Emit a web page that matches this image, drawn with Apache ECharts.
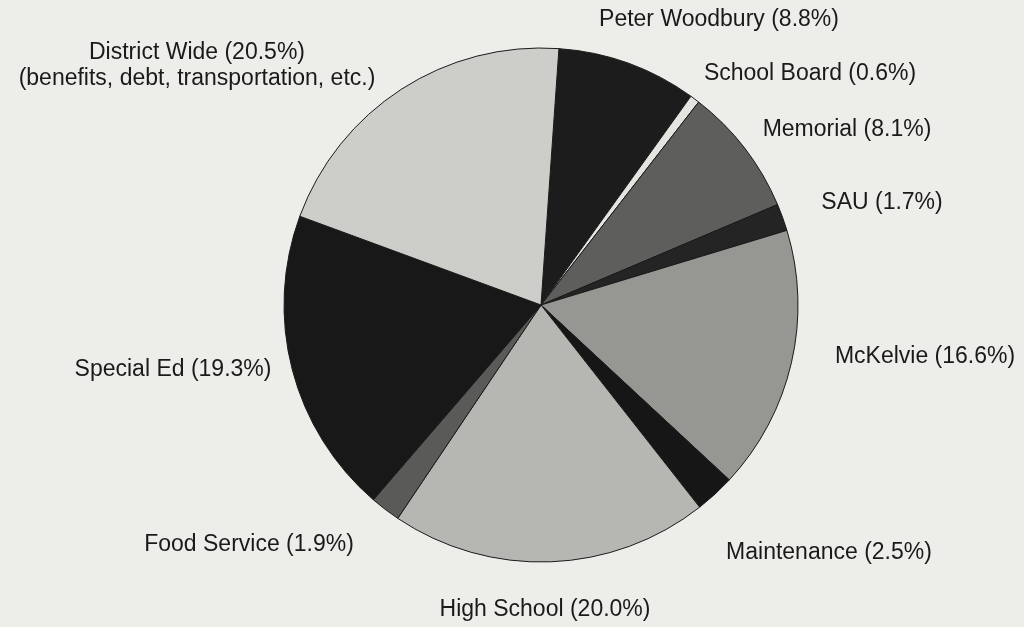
<!DOCTYPE html>
<html>
<head>
<meta charset="utf-8">
<script src="https://cdn.jsdelivr.net/npm/echarts@6/dist/echarts.min.js"></script>
<style>
html,body{margin:0;padding:0;background:#edede9;}
#chart{width:1024px;height:627px;}
</style>
</head>
<body>
<div id="chart"></div>
<script>
// Data
const categories = ['Peter Woodbury', 'School Board', 'Memorial', 'SAU', 'McKelvie', 'Maintenance', 'High School', 'Food Service', 'Special Ed', 'District Wide'];
const percents = [8.8, 0.6, 8.1, 1.7, 16.6, 2.5, 20.0, 1.9, 19.3, 20.5];
const labelNotes = ['', '', '', '', '', '', '', '', '', '(benefits, debt, transportation, etc.)'];

// Styles (not data)
const sliceColors = ['#1c1c1c', '#e4e4e0', '#5e5e5c', '#242424', '#969692', '#161616', '#b6b6b2', '#5a5a58', '#181818', '#cdcdc9'];
// label centre positions [x, y]
const labelAnchors = [
  [719, 20],
  [810, 74],
  [847, 130],
  [882, 203],
  [925, 357],
  [829, 553],
  [545, 610],
  [249, 545],
  [173, 370],
  [197, 66]
];

const data = categories.map((c, i) => ({
  name: c,
  value: percents[i],
  itemStyle: { color: sliceColors[i] }
}));

const chart = echarts.init(document.getElementById('chart'), null, { renderer: 'canvas' });
chart.setOption({
  backgroundColor: '#edede9',
  animation: false,
  series: [{
    type: 'pie',
    center: [541, 305],
    radius: 257,
    startAngle: 86,
    clockwise: true,
    data: data,
    itemStyle: { borderColor: '#1a1a1a', borderWidth: 1 },
    label: {
      show: true,
      position: 'outside',
      alignTo: 'none',
      overflow: 'none',
      color: '#1a1a1a',
      fontFamily: 'Liberation Sans, Arial, sans-serif',
      fontSize: 23,
      lineHeight: 26,
      formatter: function (p) {
        const note = labelNotes[p.dataIndex];
        const main = p.name + ' (' + p.value.toFixed(1) + '%)';
        return note ? main + '\n' + note : main;
      }
    },
    labelLine: { show: false },
    labelLayout: function (params) {
      const a = labelAnchors[params.dataIndex];
      return { x: a[0], y: a[1], align: 'center', verticalAlign: 'middle', hideOverlap: false, moveOverlap: null, width: 420 };
    },
    emphasis: { disabled: true }
  }]
});
</script>
</body>
</html>
